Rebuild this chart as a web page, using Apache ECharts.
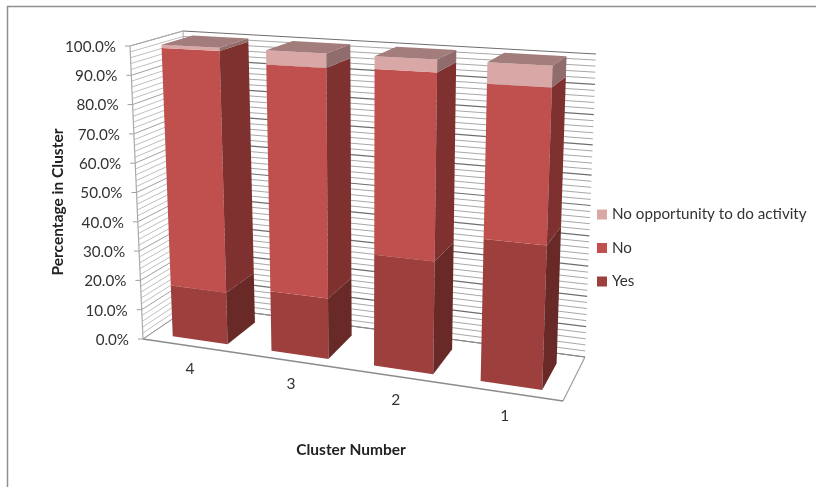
<!DOCTYPE html>
<html>
<head>
<meta charset="utf-8">
<style>html,body{margin:0;padding:0;background:#fff}#chart{width:816px;height:487px}</style>
<script src="https://cdn.jsdelivr.net/npm/echarts@6/dist/echarts.min.js"></script>
</head>
<body>
<div id="chart"></div>
<script>
// Share of respondents in each cluster, per answer
const categories = ['4', '3', '2', '1'];
const yes = [17.4, 19.8, 35.8, 44.6];
const no = [81.5, 75.5, 60.1, 48.7];
const noOpportunity = [1.1, 4.7, 4.1, 6.7];
const valueTicks = [0, 10, 20, 30, 40, 50, 60, 70, 80, 90, 100];
const tickLabels = ['0.0%', '10.0%', '20.0%', '30.0%', '40.0%', '50.0%', '60.0%', '70.0%', '80.0%', '90.0%', '100.0%'];
const gridLevels = [0, 2, 4, 6, 8, 10, 12, 14, 16, 18, 20, 22, 24, 26, 28, 30, 32, 34, 36, 38, 40, 42, 44, 46, 48,
  50, 52, 54, 56, 58, 60, 62, 64, 66, 68, 70, 72, 74, 76, 78, 80, 82, 84, 86, 88, 90, 92, 94, 96, 98, 100];

// Plot box of the hidden axes; the box is then warped into the 3D view
const GRID = { left: 100, top: 50, width: 400, height: 300 };
// Screen corners of the 3D box: front/back, left/right, bottom/top
const BOX = {
  flb: [143, 339], frb: [563, 401], blb: [193, 305], brb: [585, 357],
  flt: [130, 46], frt: [575, 70], blt: [183, 31], brt: [596, 54]
};
const PERSPECTIVE = 1.08;
const BAR_HALF = 0.28;
const DEPTH_FRONT = 0.17;
const DEPTH_BACK = 0.78;

function mix(a, b, t) { return [a[0] + (b[0] - a[0]) * t, a[1] + (b[1] - a[1]) * t]; }

// Axis position + depth (0 front, 1 back) -> screen point
function project(api, xv, v, d) {
  const c = api.coord([xv, v]);
  const u = (c[0] - GRID.left) / GRID.width;
  const w = (GRID.top + GRID.height - c[1]) / GRID.height;
  const s = u / (u + PERSPECTIVE * (1 - u));
  const bottom = mix(mix(BOX.flb, BOX.frb, s), mix(BOX.blb, BOX.brb, s), d);
  const top = mix(mix(BOX.flt, BOX.frt, s), mix(BOX.blt, BOX.brt, s), d);
  return mix(bottom, top, w);
}

function line(a, b, stroke, lineWidth) {
  return { type: 'line', shape: { x1: a[0], y1: a[1], x2: b[0], y2: b[1] }, style: { stroke: stroke, lineWidth: lineWidth } };
}
function face(points, fill) {
  return { type: 'polygon', shape: { points: points }, style: { fill: fill } };
}

function renderGridLine(params, api) {
  const level = api.value(1);
  const major = level % 10 === 0;
  const n = categories.length;
  const frontLeft = project(api, 0, level, 0);
  const backLeft = project(api, 0, level, 1);
  const backRight = project(api, n, level, 1);
  const kids = [
    line(frontLeft, backLeft, major ? '#a0a0a0' : '#c0c0c0', 1),
    line(backLeft, backRight, major ? '#6e6e6e' : '#a8a8a8', major ? 1.2 : 1)
  ];
  if (major) {
    kids.push(line([frontLeft[0] - 5, frontLeft[1]], frontLeft, '#a0a0a0', 1));
    kids.push({
      type: 'text',
      style: {
        text: tickLabels[valueTicks.indexOf(level)], x: frontLeft[0] - 14, y: frontLeft[1] + 1,
        align: 'right', verticalAlign: 'middle', fill: '#333', font: '15.2px Lato'
      }
    });
  }
  return { type: 'group', children: kids };
}

function renderBox(params, api) {
  const n = categories.length;
  const a = project(api, 0, 0, 0), b = project(api, n, 0, 0);
  const c = project(api, n, 0, 1), d = project(api, 0, 0, 1);
  const e = project(api, 0, 100, 0), g = project(api, 0, 100, 1);
  return {
    type: 'group',
    children: [
      line(a, e, '#aaaaaa', 1.2),
      line(d, g, '#aaaaaa', 1),
      line(e, g, '#aaaaaa', 1),
      line(a, d, '#a0a0a0', 1),
      line(d, c, '#8c8c8c', 1.2),
      line(c, b, '#a0a0a0', 1.2),
      line(a, b, '#8c8c8c', 1.4)
    ]
  };
}

function barRenderer(frontFill, sideFill, topFill) {
  return function (params, api) {
    const x = api.value(0), lo = api.value(1), hi = api.value(2);
    const l = x + 0.5 - BAR_HALF, r = x + 0.5 + BAR_HALF;
    const kids = [
      face([project(api, l, lo, DEPTH_FRONT), project(api, r, lo, DEPTH_FRONT),
        project(api, r, hi, DEPTH_FRONT), project(api, l, hi, DEPTH_FRONT)], frontFill),
      face([project(api, r, lo, DEPTH_FRONT), project(api, r, lo, DEPTH_BACK),
        project(api, r, hi, DEPTH_BACK), project(api, r, hi, DEPTH_FRONT)], sideFill)
    ];
    if (topFill) {
      kids.push(face([project(api, l, hi, DEPTH_FRONT), project(api, r, hi, DEPTH_FRONT),
        project(api, r, hi, DEPTH_BACK), project(api, l, hi, DEPTH_BACK)], topFill));
    }
    return { type: 'group', children: kids };
  };
}

function renderCategory(params, api) {
  const p = project(api, api.value(0) + 0.5, 0, 0);
  return {
    type: 'text',
    style: {
      text: categories[params.dataIndex], x: p[0] - 2, y: p[1] + 23,
      align: 'center', verticalAlign: 'middle', fill: '#333', font: '15.5px Lato'
    }
  };
}

// Stack the three answers per cluster
const stack = (lower, values) => values.map((v, i) => [i, lower[i], lower[i] + v]);
const zeros = categories.map(() => 0);
const yesData = stack(zeros, yes);
const noData = stack(yesData.map(d => d[2]), no);
const oppData = stack(noData.map(d => d[2]), noOpportunity);

function stackSeries(name, data, color, render) {
  return {
    name: name, type: 'custom', data: data, renderItem: render, clip: false, z: 3, silent: true,
    itemStyle: { color: color }, encode: { x: 0, y: [1, 2] }
  };
}
function helperSeries(data, render, z) {
  return { type: 'custom', data: data, renderItem: render, clip: false, z: z, silent: true, encode: { x: 0, y: 1 } };
}

const chart = echarts.init(document.getElementById('chart'), null, { renderer: 'canvas' });
chart.setOption({
  animation: false,
  backgroundColor: '#fff',
  grid: GRID,
  xAxis: { type: 'value', min: 0, max: categories.length, show: false },
  yAxis: { type: 'value', min: 0, max: 100, show: false },
  legend: {
    data: ['No opportunity to do activity', 'No', 'Yes'],
    left: 597, top: 207, orient: 'vertical', icon: 'rect',
    itemWidth: 10, itemHeight: 10, itemGap: 18.5, selectedMode: false,
    padding: 0, textStyle: { color: '#333', fontFamily: 'Lato', fontSize: 15.2 }
  },
  series: [
    helperSeries(gridLevels.map(l => [0, l]), renderGridLine, 1),
    helperSeries([[0, 0]], renderBox, 2),
    helperSeries(categories.map((c, i) => [i, 0]), renderCategory, 2),
    stackSeries('Yes', yesData, '#9c3f3d', barRenderer('#9c3f3d', '#682927', null)),
    stackSeries('No', noData, '#c0504d', barRenderer('#c0504d', '#7e312f', null)),
    stackSeries('No opportunity to do activity', oppData, '#d9a7a6', barRenderer('#d9a7a6', '#906c6c', '#a37c7c'))
  ],
  graphic: [
    { type: 'rect', silent: true, z: 0, shape: { x: 7.5, y: 6.5, width: 900, height: 600 }, style: { fill: 'none', stroke: '#909090', lineWidth: 1.5 } },
    { type: 'text', silent: true, z: 5, x: 351, y: 450, style: { text: 'Cluster Number', align: 'center', verticalAlign: 'middle', fill: '#222', font: 'bold 15.5px Lato' } },
    { type: 'text', silent: true, z: 5, x: 58, y: 202, rotation: Math.PI / 2, style: { text: 'Percentage in Cluster', align: 'center', verticalAlign: 'middle', fill: '#222', font: 'bold 15.5px Lato' } }
  ]
});
</script>
</body>
</html>
